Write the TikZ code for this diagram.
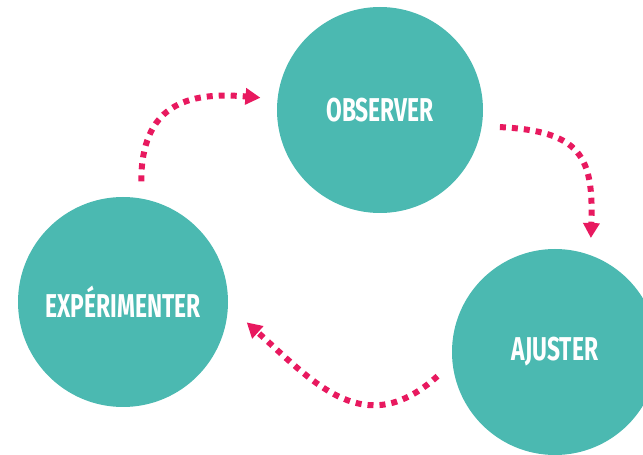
\documentclass[tikz,border=0pt]{standalone}
\usepackage{fontspec}
\newfontfamily\stagefont[FakeStretch=0.69]{Fira Sans}
\usepackage{tikz}
\usetikzlibrary{calc, arrows.meta}
\definecolor{stageteal}{HTML}{4BB9B1}
\definecolor{looppink}{HTML}{E8195F}
\tikzstyle{stage}=[inner sep=0pt, shape=circle, fill=stageteal, minimum size=206pt, text=white, font=\stagefont\bfseries\fontsize{33}{33}\selectfont]
\tikzstyle{loop}=[draw=looppink, line width=6pt, dash pattern=on 6pt off 6pt, -{Triangle[length=15pt, width=16pt]}]

\begin{document}
\begin{tikzpicture}[x=1pt, y=1pt]
\useasboundingbox (0,0) rectangle (643,455);
\clip (0,0) rectangle (643,455);
% the three stages
\node[stage] (obs) at (380,345) {OBSERVER};
\node[stage, minimum size=210pt] (exp) at (123,153) {EXP\'ERIMENTER};
\node[stage] (adj) at (555,103) {AJUSTER};
% the arrows of the loop
\draw[loop, shorten <= 17pt, shorten >= 17pt] (exp.80) to[out=90, in=175, looseness=1.4] (obs.174);
\draw[loop, shorten <= 18pt, shorten >= 17pt] (obs.-9) to[out=-3, in=88, looseness=1.5] (adj.70);
\draw[loop, shorten <= 20pt, shorten >= 25pt] (adj.186) to[out=222, in=-42, looseness=1.3] (exp.-2);
\end{tikzpicture}
\end{document}
